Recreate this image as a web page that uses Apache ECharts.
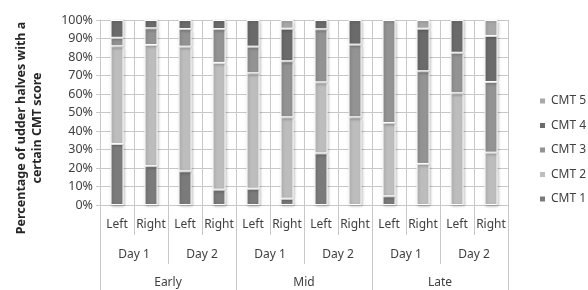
<!DOCTYPE html>
<html>
<head>
<meta charset="utf-8">
<script src="https://cdn.jsdelivr.net/npm/echarts@6/dist/echarts.min.js"></script>
<style>
  html, body { margin: 0; padding: 0; background: #fff; }
  #main { width: 588px; height: 290px; }
</style>
</head>
<body>
<div id="main"></div>
<script>
  // category levels
  var sides = ['Left', 'Right', 'Left', 'Right', 'Left', 'Right', 'Left', 'Right', 'Left', 'Right', 'Left', 'Right'];
  var days = ['Day 1', 'Day 2', 'Day 1', 'Day 2', 'Day 1', 'Day 2'];
  var periods = ['Early', 'Mid', 'Late'];

  // percentage of udder halves per CMT score
  var cmt1 = [33, 21, 18.2, 8.3, 8.8, 3.4, 27.9, 0, 4.7, 0, 0, 0];
  var cmt2 = [52.8, 65.5, 67.4, 68.5, 62.4, 44, 38.4, 47.4, 39.6, 22.2, 60.4, 28.3];
  var cmt3 = [4.6, 9, 9.5, 18.3, 14.4, 30.3, 28.7, 39.3, 55.7, 50.1, 21.9, 38.2];
  var cmt4 = [9.6, 4.5, 4.9, 4.9, 14.4, 17.6, 5, 13.3, 0, 23, 17.7, 24.9];
  var cmt5 = [0, 0, 0, 0, 0, 4.7, 0, 0, 0, 4.7, 0, 8.6];

  var yTicks = [0, 10, 20, 30, 40, 50, 60, 70, 80, 90, 100];

  var font = 'Noto Sans';
  var textCol = '#404040';
  var lineCol = '#c8c8c8';

  var myChart = echarts.init(document.getElementById('main'));

  function bar (name, data, color) {
    return {
      name: name,
      type: 'bar',
      stack: 'cmt',
      barWidth: 13,
      xAxisIndex: 0,
      itemStyle: {
        color: color,
        borderColor: '#fff',
        borderWidth: 1,
        shadowBlur: 3,
        shadowColor: 'rgba(0,0,0,0.25)',
        shadowOffsetX: 1,
        shadowOffsetY: 1
      },
      data: data.map(function (v) { return v === 0 ? '-' : v; })
    };
  }

  var option = {
    animation: false,
    textStyle: { fontFamily: font },
    graphic: [{
      type: 'text',
      x: 29,
      y: 128,
      rotation: Math.PI / 2,
      style: {
        text: 'Percentage of udder halves with a\ncertain CMT score',
        font: 'bold 12.5px "' + font + '"',
        fill: '#262626',
        align: 'center',
        verticalAlign: 'middle',
        lineHeight: 16
      }
    }],
    legend: {
      orient: 'vertical',
      left: 533,
      top: 90,
      itemWidth: 7,
      itemHeight: 7,
      itemGap: 12.5,
      icon: 'rect',
      textStyle: { color: textCol, fontSize: 12, fontFamily: font },
      data: ['CMT 5', 'CMT 4', 'CMT 3', 'CMT 2', 'CMT 1']
    },
    grid: {
      left: 100,
      right: 80,
      top: 20,
      bottom: 85,
      containLabel: false
    },
    xAxis: [
      {
        type: 'category',
        position: 'bottom',
        data: sides,
        axisLine: { lineStyle: { color: lineCol, width: 1 } },
        axisTick: { show: true, interval: 0, length: 30, lineStyle: { color: lineCol } },
        axisLabel: { interval: 0, margin: 14, color: textCol, fontSize: 12, fontFamily: font },
        splitLine: { show: true, interval: 0, lineStyle: { color: lineCol } }
      },
      {
        type: 'category',
        position: 'bottom',
        data: days,
        axisLine: { show: false },
        axisTick: { show: true, interval: 0, length: 59, lineStyle: { color: lineCol } },
        axisLabel: { interval: 0, margin: 44, color: textCol, fontSize: 12, fontFamily: font },
        splitLine: { show: false }
      },
      {
        type: 'category',
        position: 'bottom',
        data: periods,
        axisLine: { show: false },
        axisTick: { show: true, interval: 0, length: 86, lineStyle: { color: lineCol } },
        axisLabel: { interval: 0, margin: 72, color: textCol, fontSize: 12, fontFamily: font },
        splitLine: { show: false }
      }
    ],
    yAxis: {
      type: 'value',
      min: yTicks[0],
      max: yTicks[yTicks.length - 1],
      interval: 10,
      axisLabel: {
        formatter: '{value}%',
        color: textCol,
        fontSize: 12.5,
        fontFamily: font,
        margin: 7
      },
      axisLine: { show: true, lineStyle: { color: lineCol } },
      axisTick: { show: true, length: 4, lineStyle: { color: lineCol } },
      splitLine: { lineStyle: { color: lineCol } }
    },
    series: [
      bar('CMT 1', cmt1, '#7b7b7b'),
      bar('CMT 2', cmt2, '#bdbdbd'),
      bar('CMT 3', cmt3, '#939393'),
      bar('CMT 4', cmt4, '#6b6b6b'),
      bar('CMT 5', cmt5, '#a8a8a8')
    ]
  };

  myChart.setOption(option);
</script>
</body>
</html>
